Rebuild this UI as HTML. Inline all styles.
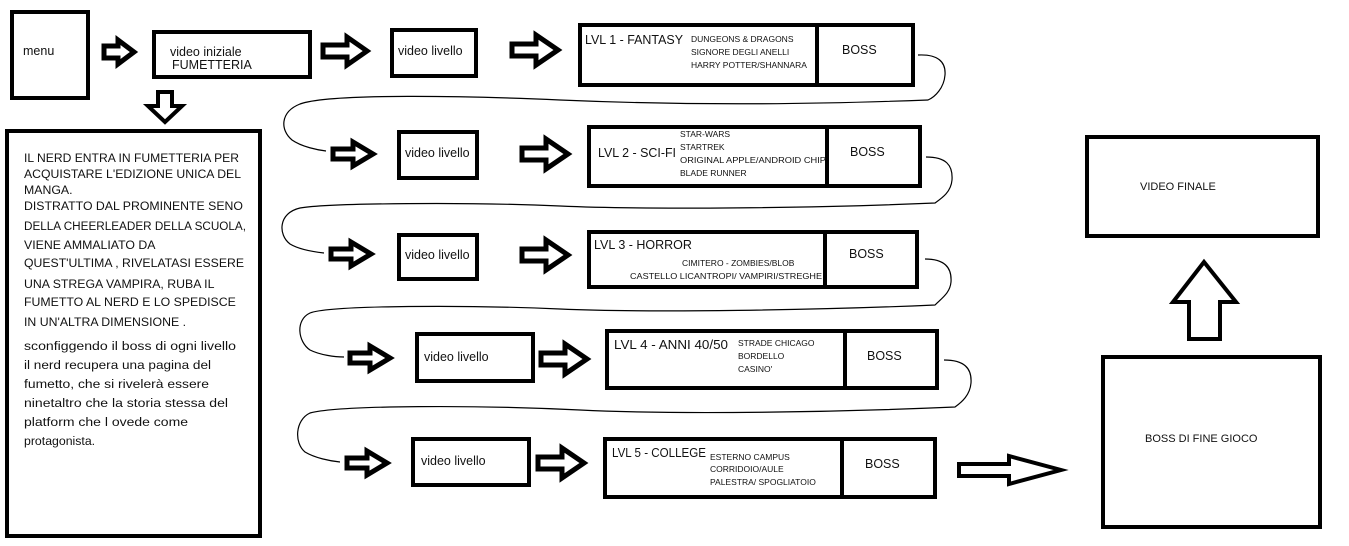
<!DOCTYPE html>
<html><head><meta charset="utf-8"><style>
html,body{margin:0;padding:0;background:#fff;width:1349px;height:546px;overflow:hidden}
svg{display:block}
text{font-family:"Liberation Sans",sans-serif;fill:#111}
</style></head><body>
<svg width="1349" height="546" viewBox="0 0 1349 546" xmlns="http://www.w3.org/2000/svg">
<g fill="none" stroke="#000" stroke-width="4">
<rect x="12" y="12" width="76" height="86"/>
<rect x="154" y="32" width="156" height="45"/>
<rect x="392" y="30" width="84" height="46"/>
<rect x="580" y="25" width="333" height="60"/><line x1="817" y1="25" x2="817" y2="85"/>
<rect x="7" y="131" width="253" height="405"/>
<rect x="399" y="132" width="78" height="46"/>
<rect x="589" y="127" width="331" height="59"/><line x1="827" y1="127" x2="827" y2="186"/>
<rect x="399" y="235" width="78" height="44"/>
<rect x="589" y="232" width="328" height="55"/><line x1="825" y1="232" x2="825" y2="287"/>
<rect x="417" y="334" width="116" height="47"/>
<rect x="607" y="331" width="330" height="57"/><line x1="845" y1="331" x2="845" y2="388"/>
<rect x="413" y="439" width="116" height="46"/>
<rect x="605" y="439" width="330" height="58"/><line x1="842" y1="439" x2="842" y2="497"/>
<rect x="1087" y="137" width="231" height="99"/>
<rect x="1103" y="357" width="217" height="170"/>
</g>
<g fill="#fff" stroke="#000" stroke-width="5" stroke-linejoin="miter">
<path d="M104,46 h14 v-6 l16,12 l-16,12 v-6 h-14 z"/>
<path d="M323,45 h24 v-8 l20,14 l-20,14 v-8 h-24 z"/>
<path d="M512,44 h24 v-9 l22,15 l-22,15 v-9 h-24 z"/>
<path d="M333,149 h20 v-7 l20,12 l-20,12 v-7 h-20 z"/>
<path d="M522,148 h24 v-9 l22,15 l-22,15 v-9 h-24 z"/>
<path d="M331,249 h20 v-7 l20,12 l-20,12 v-7 h-20 z"/>
<path d="M522,249 h24 v-9 l22,15 l-22,15 v-9 h-24 z"/>
<path d="M350,353 h20 v-7 l20,12 l-20,12 v-7 h-20 z"/>
<path d="M541,353 h24 v-9 l22,15 l-22,15 v-9 h-24 z"/>
<path d="M347,458 h20 v-7 l20,12 l-20,12 v-7 h-20 z"/>
<path d="M538,457 h24 v-9 l22,15 l-22,15 v-9 h-24 z"/>
</g>
<g fill="#fff" stroke="#000" stroke-width="4">
<path d="M959,464 h50 v-8 l52,14 l-52,14 v-8 h-50 z"/>
<path d="M158,92 h14 v14 h10 l-17,16 l-17,-16 h10 z"/>
<path d="M1204,262 l-31,40 h16 v37 h31 v-37 h16 z"/>
</g>
<g fill="none" stroke="#000" stroke-width="1.2">
<path d="M918,55 C938,54 946,62 945,75 C944,88 935,97 928,100 C820,104 700,106 560,100 C470,96 330,93 300,104 C280,112 280,130 292,140 C302,147 318,150 326,151"/>
<path d="M926,157 C946,157 953,165 952,180 C951,192 942,198 935,203 C820,208 650,210 560,206 C470,202 330,203 300,208 C278,213 278,235 290,244 C300,250 315,252 324,253"/>
<path d="M925,259 C944,259 952,267 951,282 C950,293 942,298 935,305 C820,310 650,313 560,309 C470,305 330,305 310,313 C295,320 298,342 310,350 C320,355 335,357 344,357"/>
<path d="M944,360 C964,360 972,368 971,383 C970,395 962,402 955,407 C840,412 680,415 580,410 C480,405 340,405 310,413 C295,420 294,443 305,452 C315,458 330,461 340,462"/>
</g>
<g font-size="12.5" style="font-stretch:condensed">
<text x="23" y="55">menu</text>
<text x="170" y="56">video iniziale</text>
<text x="172" y="69">FUMETTERIA</text>
<text x="398" y="55">video livello</text>
<text x="405" y="157">video livello</text>
<text x="405" y="259">video livello</text>
<text x="424" y="361">video livello</text>
<text x="421" y="465">video livello</text>
<text x="585" y="44" textLength="98" lengthAdjust="spacingAndGlyphs">LVL 1 - FANTASY</text>
<text x="598" y="157" textLength="78" lengthAdjust="spacingAndGlyphs">LVL 2 - SCI-FI</text>
<text x="594" y="249">LVL 3 - HORROR</text>
<text x="614" y="349" textLength="114" lengthAdjust="spacingAndGlyphs">LVL 4 - ANNI 40/50</text>
<text x="612" y="457" textLength="94" lengthAdjust="spacingAndGlyphs">LVL 5 - COLLEGE</text>
<text x="842" y="54">BOSS</text>
<text x="850" y="156">BOSS</text>
<text x="849" y="258">BOSS</text>
<text x="867" y="360">BOSS</text>
<text x="865" y="468">BOSS</text>
</g>
<g font-size="8.5">
<text x="691" y="42">DUNGEONS &amp; DRAGONS</text>
<text x="691" y="55">SIGNORE DEGLI ANELLI</text>
<text x="691" y="68">HARRY POTTER/SHANNARA</text>
<text x="680" y="137">STAR-WARS</text>
<text x="680" y="150">STARTREK</text>
<text x="680" y="163" textLength="146" lengthAdjust="spacingAndGlyphs">ORIGINAL APPLE/ANDROID CHIP</text>
<text x="680" y="176">BLADE RUNNER</text>
<text x="682" y="266">CIMITERO -  ZOMBIES/BLOB</text>
<text x="630" y="279" textLength="192" lengthAdjust="spacingAndGlyphs">CASTELLO LICANTROPI/ VAMPIRI/STREGHE</text>
<text x="738" y="346">STRADE CHICAGO</text>
<text x="738" y="359">BORDELLO</text>
<text x="738" y="372">CASINO'</text>
<text x="710" y="460">ESTERNO CAMPUS</text>
<text x="710" y="472">CORRIDOIO/AULE</text>
<text x="710" y="485">PALESTRA/  SPOGLIATOIO</text>
</g>
<g font-size="11">
<text x="1140" y="190">VIDEO FINALE</text>
<text x="1145" y="442">BOSS DI FINE GIOCO</text>
</g>
<g font-size="12.3">
<text x="24" y="162" textLength="215" lengthAdjust="spacingAndGlyphs">IL NERD ENTRA IN FUMETTERIA PER</text>
<text x="24" y="178" textLength="217" lengthAdjust="spacingAndGlyphs">ACQUISTARE L'EDIZIONE UNICA DEL</text>
<text x="24" y="194">MANGA.</text>
<text x="24" y="210" textLength="219" lengthAdjust="spacingAndGlyphs">DISTRATTO DAL PROMINENTE SENO</text>
<text x="24" y="230" textLength="222" lengthAdjust="spacingAndGlyphs">DELLA CHEERLEADER DELLA SCUOLA,</text>
<text x="24" y="249">VIENE AMMALIATO DA</text>
<text x="24" y="267" textLength="220" lengthAdjust="spacingAndGlyphs">QUEST'ULTIMA ,  RIVELATASI ESSERE</text>
<text x="24" y="288">UNA STREGA VAMPIRA, RUBA IL</text>
<text x="24" y="306">FUMETTO AL NERD E LO SPEDISCE</text>
<text x="24" y="326">IN UN'ALTRA DIMENSIONE .</text>
<text x="24" y="350" textLength="212" lengthAdjust="spacingAndGlyphs">sconfiggendo il boss di ogni livello</text>
<text x="24" y="369" textLength="187" lengthAdjust="spacingAndGlyphs">il nerd recupera una pagina del</text>
<text x="24" y="388" textLength="185" lengthAdjust="spacingAndGlyphs">fumetto, che si rivelerà essere</text>
<text x="24" y="407" textLength="204" lengthAdjust="spacingAndGlyphs">ninetaltro che la storia stessa del</text>
<text x="24" y="426" textLength="164" lengthAdjust="spacingAndGlyphs">platform che l ovede come</text>
<text x="24" y="445">protagonista.</text>
</g>
</svg>
</body></html>
